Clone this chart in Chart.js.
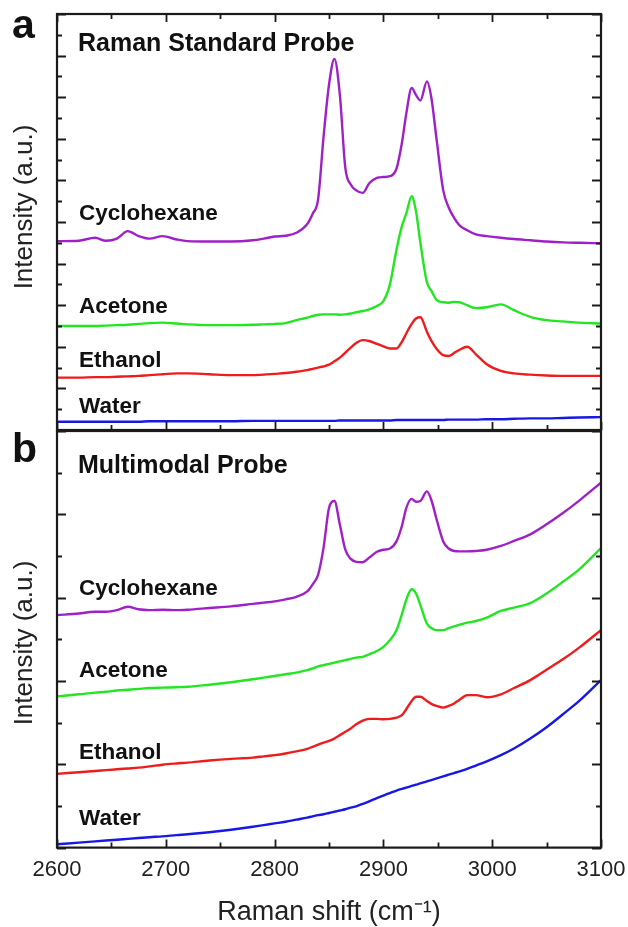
<!DOCTYPE html>
<html><head><meta charset="utf-8">
<script src="https://cdn.jsdelivr.net/npm/chart.js@4.4.1/dist/chart.umd.min.js"></script>
<style>
html,body{margin:0;padding:0;background:#fff;}
#wrap{position:relative;width:628px;height:927px;overflow:hidden;background:#fff;}
#ca{position:absolute;left:0;top:0;}
#cb{position:absolute;left:0;top:430px;}
</style></head><body>
<div id="wrap">
<canvas id="ca" width="628" height="432"></canvas>
<canvas id="cb" width="635" height="497"></canvas>
</div>
<script>
// ---- data (Raman shift, cm^-1) ----
const wavenumbers = [2600,2620,2635,2645,2655,2665,2675,2685,2697,2710,2720,2740,2760,2780,2790,2800,2810,2820,2830,2835,2840,2845,2850,2855,2860,2865,2870,2875,2881,2887,2894,2900,2906,2912,2917,2921,2926,2930,2934,2940,2944,2949,2955,2960,2965,2970,2977,2985,2995,3008,3020,3035,3050,3065,3080,3100];
const seriesNames = ['Cyclohexane','Acetone','Ethanol','Water'];
const panelTitles = ['Raman Standard Probe','Multimodal Probe'];
const xTickLabels = [2600,2700,2800,2900,3000,3100];

// panel a: Raman standard probe
const standardCyclohexane = [4.54,4.55,4.62,4.55,4.60,4.78,4.66,4.60,4.66,4.58, 4.54,4.53,4.53,4.56,4.60,4.65,4.67,4.74,4.95,5.20, 5.55,7.05,8.30,8.92,8.05,6.30,5.90,5.76,5.70,5.93, 6.06,6.08,6.10,6.28,6.90,7.60,8.22,8.05,7.92,8.38, 8.00,6.96,5.76,5.35,5.10,4.92,4.80,4.70,4.66,4.62, 4.59,4.56,4.53,4.51,4.50,4.49];
const standardAcetone = [2.50,2.50,2.50,2.51,2.52,2.53,2.55,2.57,2.58,2.56, 2.54,2.52,2.52,2.53,2.54,2.55,2.57,2.64,2.70,2.74, 2.77,2.78,2.78,2.78,2.77,2.78,2.80,2.83,2.86,2.90, 2.98,3.10,3.50,4.33,4.90,5.20,5.62,5.25,4.50,3.55, 3.35,3.12,3.07,3.06,3.08,3.07,3.00,2.93,2.95,3.02, 2.88,2.72,2.64,2.61,2.58,2.56];
const standardEthanol = [1.26,1.26,1.27,1.27,1.28,1.29,1.30,1.32,1.34,1.36, 1.36,1.34,1.32,1.32,1.33,1.35,1.37,1.40,1.44,1.47, 1.50,1.53,1.57,1.65,1.74,1.86,1.98,2.09,2.16,2.14, 2.07,2.01,1.96,1.96,2.12,2.32,2.55,2.68,2.71,2.36, 2.15,1.95,1.80,1.78,1.85,1.93,2.00,1.82,1.58,1.42, 1.36,1.33,1.31,1.30,1.30,1.30];
const standardWater = [0.20,0.20,0.20,0.20,0.20,0.20,0.20,0.21,0.21,0.21, 0.21,0.21,0.21,0.22,0.22,0.22,0.22,0.22,0.22,0.22, 0.22,0.22,0.22,0.22,0.23,0.23,0.23,0.23,0.23,0.23, 0.23,0.23,0.23,0.24,0.24,0.24,0.24,0.24,0.24,0.24, 0.24,0.24,0.24,0.25,0.25,0.25,0.25,0.25,0.26,0.26, 0.27,0.28,0.28,0.29,0.30,0.31];

// panel b: multimodal probe
const multimodalCyclohexane = [5.58,5.62,5.66,5.66,5.70,5.78,5.72,5.70,5.71,5.70, 5.71,5.75,5.79,5.85,5.88,5.91,5.96,6.02,6.15,6.32, 6.55,7.20,8.15,8.32,7.75,7.15,6.93,6.86,6.85,6.96, 7.10,7.15,7.18,7.35,7.72,8.15,8.37,8.30,8.32,8.55, 8.35,7.87,7.35,7.18,7.12,7.11,7.11,7.12,7.15,7.24, 7.36,7.52,7.76,8.03,8.33,8.76];
const multimodalAcetone = [3.63,3.68,3.72,3.74,3.77,3.79,3.81,3.83,3.84,3.85, 3.86,3.91,3.97,4.04,4.08,4.12,4.16,4.20,4.26,4.30, 4.35,4.38,4.41,4.44,4.47,4.50,4.53,4.56,4.58,4.64, 4.72,4.82,4.98,5.22,5.60,5.95,6.20,6.10,5.82,5.38, 5.27,5.22,5.22,5.27,5.31,5.35,5.40,5.44,5.52,5.68, 5.76,5.87,6.10,6.38,6.68,7.19];
const multimodalEthanol = [1.77,1.81,1.84,1.86,1.88,1.90,1.92,1.95,1.99,2.02, 2.04,2.09,2.13,2.16,2.19,2.22,2.26,2.31,2.37,2.42, 2.47,2.52,2.56,2.62,2.70,2.78,2.86,2.96,3.05,3.09, 3.09,3.08,3.09,3.12,3.18,3.32,3.52,3.62,3.62,3.52, 3.45,3.40,3.36,3.40,3.46,3.55,3.66,3.66,3.61,3.68, 3.83,4.02,4.27,4.52,4.80,5.22];
const multimodalWater = [0.08,0.12,0.15,0.17,0.19,0.21,0.23,0.25,0.27,0.30, 0.32,0.37,0.43,0.50,0.54,0.58,0.62,0.67,0.72,0.75, 0.78,0.80,0.83,0.86,0.89,0.92,0.96,0.99,1.05,1.11, 1.19,1.25,1.31,1.37,1.41,1.44,1.48,1.51,1.54,1.59, 1.62,1.66,1.71,1.75,1.79,1.83,1.89,1.97,2.07,2.22, 2.38,2.62,2.89,3.20,3.52,4.02];

// ---- styling ----
const colors = ['#a020c8','#22e622','#ee1c1c','#1818e6'];
const FONT = '"Liberation Sans", Arial, Helvetica, sans-serif';
const INK = '#1a1a1a';

function makeDatasets(seriesList){
  return seriesList.map((vals,i)=>({
    label: seriesNames[i],
    data: wavenumbers.map((x,j)=>({x:x, y:vals[j]})),
    borderColor: colors[i],
    borderWidth: 2.4,
    pointRadius: 0,
    fill: false,
    cubicInterpolationMode: 'monotone'
  }));
}

const decor = {
  id: 'decor',
  afterDraw(chart, args, o){
    const ctx = chart.ctx;
    const {left,right,top,bottom} = chart.chartArea;
    const xs = chart.scales.x, ys = chart.scales.y;
    ctx.save();
    ctx.strokeStyle = INK;
    ctx.lineWidth = 1.8;
    ctx.beginPath();
    for (let v = xs.min; v <= xs.max + 1e-6; v += 50){
      const px = Math.round(xs.getPixelForValue(v)) + 0.5;
      const L = (v % 100 === 0) ? 8 : 5;
      ctx.moveTo(px, bottom); ctx.lineTo(px, bottom - L);
      if (o.topTicks){ ctx.moveTo(px, top); ctx.lineTo(px, top + L); }
    }
    for (let v = ys.min; v <= ys.max + 1e-6; v += o.yStep){
      const py = Math.round(ys.getPixelForValue(v)) + 0.5;
      const r = v / o.yMajor;
      const L = Math.abs(r - Math.round(r)) < 1e-6 ? 9 : 5;
      ctx.moveTo(left, py); ctx.lineTo(left + L, py);
      ctx.moveTo(right, py); ctx.lineTo(right - L, py);
    }
    ctx.stroke();
    ctx.lineWidth = 2.2;
    ctx.strokeRect(left, top, right - left, bottom - top);

    ctx.fillStyle = '#111';
    ctx.textAlign = 'left';
    ctx.textBaseline = 'alphabetic';
    ctx.font = 'bold 41px ' + FONT;
    ctx.fillText(o.letter, 12, o.letterY);
    ctx.font = 'bold 25px ' + FONT;
    ctx.fillText(o.title, 78, o.titleY);
    ctx.font = 'bold 22.5px ' + FONT;
    seriesNames.forEach((n,i)=> ctx.fillText(n, 79, o.labelY[i]));

    ctx.fillStyle = '#222';
    ctx.font = '26px ' + FONT;
    ctx.translate(32, o.yTitleCenter);
    ctx.rotate(-Math.PI/2);
    ctx.textAlign = 'center';
    ctx.fillText('Intensity (a.u.)', 0, 0);
    ctx.restore();
  }
};

Chart.defaults.font.family = FONT;

new Chart(document.getElementById('ca'), {
  type: 'line',
  data: { datasets: makeDatasets([standardCyclohexane, standardAcetone, standardEthanol, standardWater]) },
  options: {
    responsive: false, animation: false, events: [],
    layout: { padding: { left: 57, right: 27, top: 14, bottom: 2 } },
    plugins: {
      legend: { display: false }, tooltip: { enabled: false },
      decor: { letter: 'a', letterY: 38, title: panelTitles[0], titleY: 51, labelY: [220, 313, 367, 413],
               yStep: 0.5, yMajor: 1, topTicks: true, yTitleCenter: 207 }
    },
    scales: {
      x: { type: 'linear', min: 2600, max: 3100, display: false },
      y: { type: 'linear', min: 0, max: 10, display: false }
    }
  },
  plugins: [decor]
});

new Chart(document.getElementById('cb'), {
  type: 'line',
  data: { datasets: makeDatasets([multimodalCyclohexane, multimodalAcetone, multimodalEthanol, multimodalWater]) },
  options: {
    responsive: false, animation: false, events: [],
    layout: { padding: { left: 57, right: 34, top: 1, bottom: 0 } },
    plugins: {
      legend: { display: false }, tooltip: { enabled: false },
      decor: { letter: 'b', letterY: 32, title: panelTitles[1], titleY: 43, labelY: [165, 247, 329, 395],
               yStep: 1, yMajor: 2, topTicks: false, yTitleCenter: 213 }
    },
    scales: {
      x: {
        type: 'linear', min: 2600, max: 3100, position: 'bottom',
        border: { display: false },
        grid: { display: false, drawTicks: false },
        afterBuildTicks: s => { s.ticks = xTickLabels.map(v => ({ value: v })); },
        ticks: { autoSkip: false, maxRotation: 0, padding: 9, color: '#222',
                 font: { size: 22, family: FONT }, callback: v => String(v) },
        title: { display: true, text: 'Raman shift (cm\u207B\u00B9)', color: '#222',
                 font: { size: 27, family: FONT, lineHeight: 1 }, padding: { top: 7, bottom: 1 } }
      },
      y: { type: 'linear', min: 0, max: 10, display: false }
    }
  },
  plugins: [decor]
});
</script>
</body></html>
